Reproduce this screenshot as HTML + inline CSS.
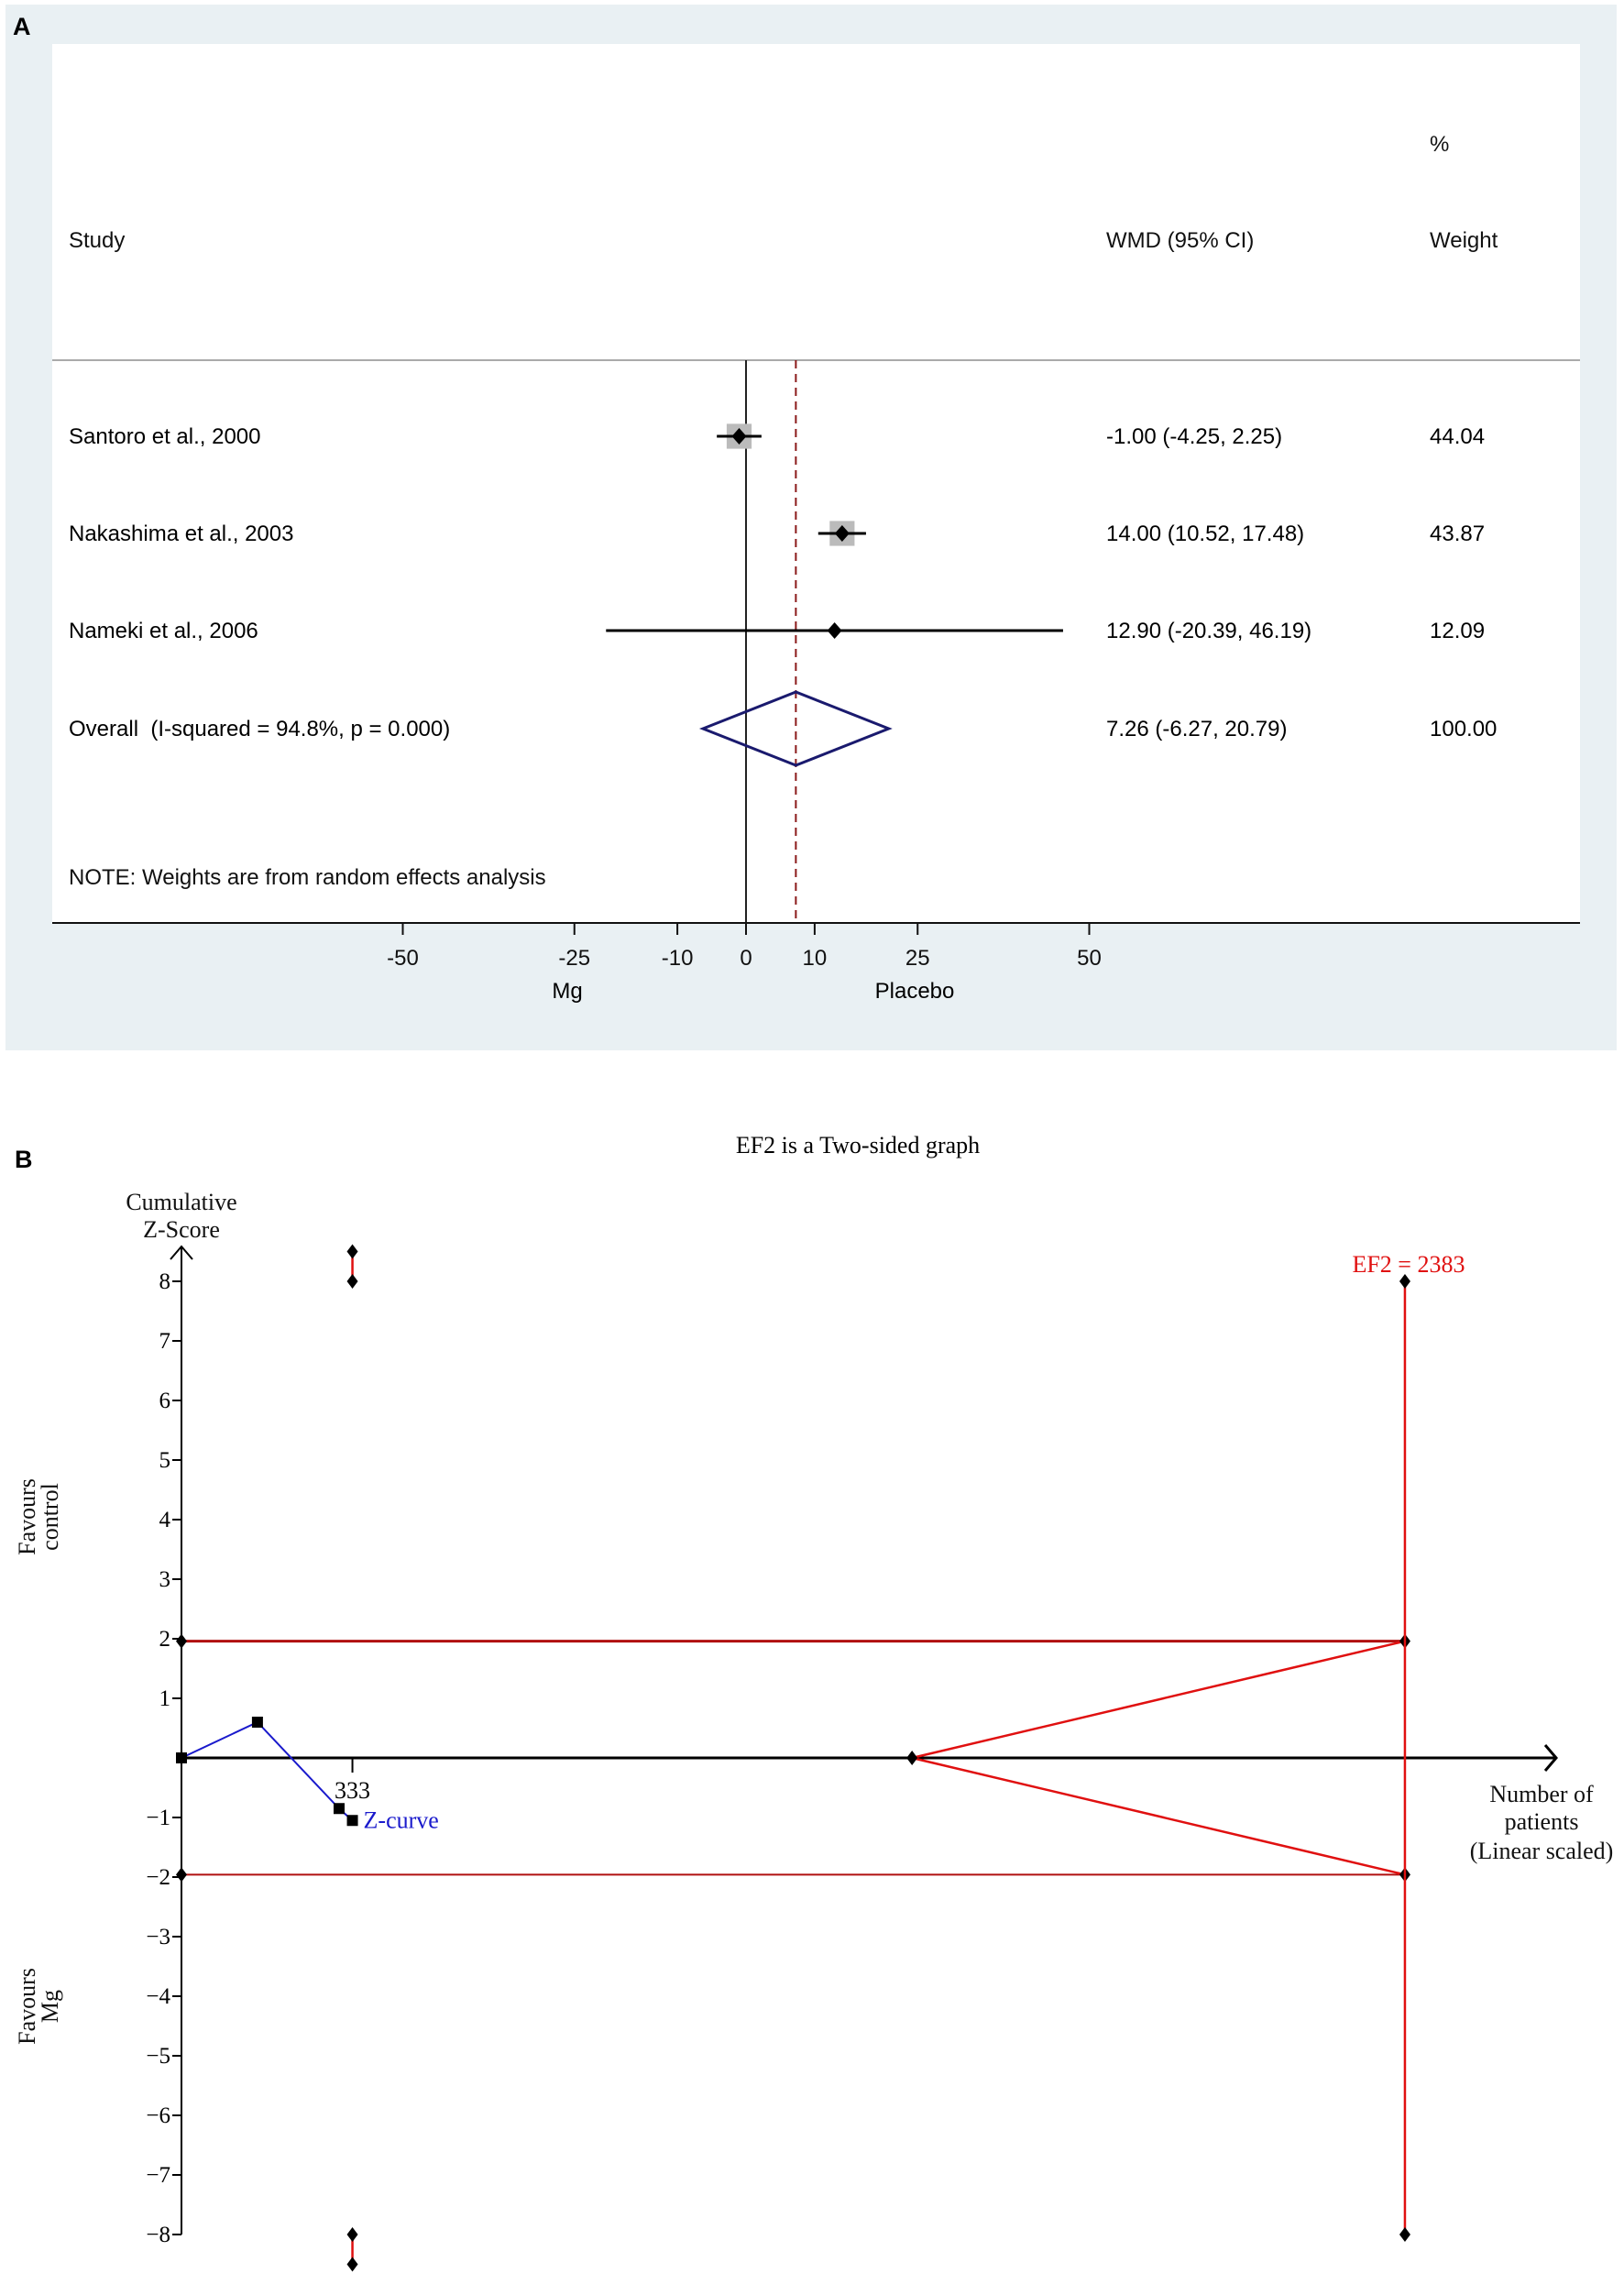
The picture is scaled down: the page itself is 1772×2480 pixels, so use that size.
<!DOCTYPE html>
<html><head><meta charset="utf-8"><style>
body{margin:0;background:#fff;}
svg{display:block;}
</style></head><body>
<svg id="fig" width="1772" height="2480" viewBox="0 0 1772 2480" xmlns="http://www.w3.org/2000/svg">
<rect x="0" y="0" width="1772" height="2480" fill="#fff"/>
<g id="panelA">
<rect x="6" y="5" width="1758" height="1141" fill="#e9f0f3"/>
<rect x="57" y="48" width="1667" height="959" fill="#fff"/>
<text x="14" y="38" font-family="Liberation Sans, sans-serif" font-weight="bold" font-size="27">A</text>
<line x1="57" y1="393" x2="1724" y2="393" stroke="#aaa" stroke-width="2"/>
<g font-family="Liberation Sans, sans-serif" font-size="24" fill="#111">
<text x="1560" y="165">%</text>
<text x="75" y="270">Study</text>
<text x="1207" y="270">WMD (95% CI)</text>
<text x="1560" y="270">Weight</text>
<text x="75" y="965">NOTE: Weights are from random effects analysis</text>
</g>
<g id="forestMarks"></g>
<line x1="57" y1="1007" x2="1724" y2="1007" stroke="#111" stroke-width="2"/>
<g id="forestTicks" font-family="Liberation Sans, sans-serif" font-size="24" fill="#111"></g>
<text x="619" y="1089" text-anchor="middle" font-family="Liberation Sans, sans-serif" font-size="24">Mg</text>
<text x="998" y="1089" text-anchor="middle" font-family="Liberation Sans, sans-serif" font-size="24">Placebo</text>
</g>
<g id="panelB">
<text x="16" y="1274" font-family="Liberation Sans, sans-serif" font-weight="bold" font-size="27">B</text>
<text x="936" y="1258" text-anchor="middle" font-family="Liberation Serif, serif" font-size="26">EF2 is a Two-sided graph</text>
<g font-family="Liberation Serif, serif" font-size="26" fill="#111">
<text x="198" y="1320" text-anchor="middle">Cumulative</text>
<text x="198" y="1350" text-anchor="middle">Z-Score</text>
<text transform="translate(38,1655) rotate(-90)" text-anchor="middle">Favours</text>
<text transform="translate(63,1655) rotate(-90)" text-anchor="middle">control</text>
<text transform="translate(38,2189) rotate(-90)" text-anchor="middle">Favours</text>
<text transform="translate(63,2189) rotate(-90)" text-anchor="middle">Mg</text>
<text x="1682" y="1966" text-anchor="middle">Number of</text>
<text x="1682" y="1996" text-anchor="middle">patients</text>
<text x="1682" y="2028" text-anchor="middle">(Linear scaled)</text>
</g>
<g id="tsa"></g>
</g>
</svg>
<script>
// ---- Panel A data ----
const studies = ["Santoro et al., 2000","Nakashima et al., 2003","Nameki et al., 2006"];
const est = [-1.00, 14.00, 12.90];
const lo = [-4.25, 10.52, -20.39];
const hi = [2.25, 17.48, 46.19];
const weights = [44.04, 43.87, 12.09];
const ciText = ["-1.00 (-4.25, 2.25)","14.00 (10.52, 17.48)","12.90 (-20.39, 46.19)"];
const overall = [7.26, -6.27, 20.79];
const overallLabel = "Overall  (I-squared = 94.8%, p = 0.000)";
const overallCi = "7.26 (-6.27, 20.79)";
const forestTicks = [-50,-25,-10,0,10,25,50];

// ---- Panel B data ----
const zN = [0, 148, 307, 333];
const zVal = [0, 0.6, -0.85, -1.05];
const zTicks = [-8,-7,-6,-5,-4,-3,-2,-1,1,2,3,4,5,6,7,8];
const conv = [1.96, -1.96];
const ef2 = 2383;
const ef2Start = 1423;
const mark333 = 333;

const NS = "http://www.w3.org/2000/svg";
function mk(tag, attrs, parent, txt){
  const e = document.createElementNS(NS, tag);
  for (const k in attrs) e.setAttribute(k, attrs[k]);
  if (txt !== undefined) e.textContent = txt;
  parent.appendChild(e); return e;
}
const ax = v => 814 + v * 7.49;
const rowY = [476, 582, 688];
const oY = 795;
const fm = document.getElementById('forestMarks');
const F = 'Liberation Sans, sans-serif';
const nl = mk('line',{x1:ax(0),y1:393,x2:ax(0),y2:1007,stroke:'#222','stroke-width':2},fm);


const dl = mk('line',{x1:ax(overall[0]),y1:393,x2:ax(overall[0]),y2:1007,stroke:'#8b1a1a','stroke-width':2,'stroke-dasharray':'9,6'},fm);


studies.forEach((s,i)=>{
  const y=rowY[i];
  const t=mk('text',{x:75,y:y+8,'font-family':F,'font-size':24},fm,s);
  
  
  const sz = Math.sqrt(weights[i])*4.1 * (weights[i]>20?1:0);
  if(sz>0){
    const b=mk('rect',{x:ax(est[i])-sz/2,y:y-sz/2,width:sz,height:sz,fill:'#bbb'},fm);
    
    
  }
  const l=mk('line',{x1:ax(lo[i]),y1:y,x2:ax(hi[i]),y2:y,stroke:'#000','stroke-width':3},fm);
  
  
  const x=ax(est[i]);
  const d=mk('path',{d:`M${x-8},${y}L${x},${y-9}L${x+8},${y}L${x},${y+9}Z`,fill:'#000'},fm);
  
  
  const c=mk('text',{x:1207,y:y+8,'font-family':F,'font-size':24},fm,ciText[i]);
  
  
  const w=mk('text',{x:1560,y:y+8,'font-family':F,'font-size':24},fm,weights[i].toFixed(2));
  
  
});
const ot=mk('text',{x:75,y:oY+8,'font-family':F,'font-size':24,style:'white-space:pre'},fm,overallLabel);


const od=mk('path',{d:`M${ax(overall[1])},${oY}L${ax(overall[0])},${oY-40}L${ax(overall[2])},${oY}L${ax(overall[0])},${oY+40}Z`,fill:'none',stroke:'#1a1a6e','stroke-width':3},fm);


const oc=mk('text',{x:1207,y:oY+8,'font-family':F,'font-size':24},fm,overallCi);


const ow=mk('text',{x:1560,y:oY+8,'font-family':F,'font-size':24},fm,'100.00');


const ft=document.getElementById('forestTicks');
forestTicks.forEach(v=>{
  const tl=mk('line',{x1:ax(v),y1:1007,x2:ax(v),y2:1020,stroke:'#111','stroke-width':2},ft);
  
  
  const tt=mk('text',{x:ax(v),y:1053,'text-anchor':'middle'},ft,String(v));
  
  
});

const bx = n => 198 + n * 0.5602;
const by = z => 1918 - z * 65.0;
const g = document.getElementById('tsa');
const S = 'Liberation Serif, serif';
function diam(x,y){
  const d=mk('path',{d:`M${x-6},${y}L${x},${y-8}L${x+6},${y}L${x},${y+8}Z`,fill:'#000'},g);
  
  
}
const ya=mk('path',{d:`M198,${by(-8)}L198,1360M186,1374L198,1360L210,1374`,fill:'none',stroke:'#000','stroke-width':2},g);


zTicks.forEach(v=>{
  const l=mk('line',{x1:188,y1:by(v),x2:198,y2:by(v),stroke:'#000','stroke-width':2},g);
  
  
  const t=mk('text',{x:186,y:by(v)+8,'text-anchor':'end','font-family':S,'font-size':25},g,(v<0?'\u2212':'')+Math.abs(v));
  
  
});
const xa=mk('path',{d:`M198,${by(0)}L1698,${by(0)}M1686,${by(0)-14}L1698,${by(0)}L1686,${by(0)+14}`,fill:'none',stroke:'#000','stroke-width':3},g);


const xt=mk('line',{x1:bx(mark333),y1:by(0),x2:bx(mark333),y2:by(0)+16,stroke:'#000','stroke-width':2},g);


const xtl=mk('text',{x:bx(mark333),y:by(0)+44,'text-anchor':'middle','font-family':S,'font-size':26},g,String(mark333));


conv.forEach(c=>{
  const l=mk('line',{x1:bx(0),y1:by(c),x2:bx(ef2),y2:by(c),stroke:'#b01010','stroke-width':c>0?3:2},g);
  
  
  diam(bx(0),by(c));
  const f=mk('line',{x1:bx(ef2Start),y1:by(0),x2:bx(ef2),y2:by(c),stroke:'#e01010','stroke-width':2.5},g);
  
  
  diam(bx(ef2),by(c));
});
diam(bx(ef2Start),by(0));
const ev=mk('line',{x1:bx(ef2),y1:by(8),x2:bx(ef2),y2:by(-8),stroke:'#e01010','stroke-width':2.5},g);


diam(bx(ef2),by(8)); diam(bx(ef2),by(-8));
const el=mk('text',{x:bx(ef2)+4,y:1388,'text-anchor':'middle','font-family':S,'font-size':26,fill:'#e01010'},g,'EF2 = '+ef2);


[[8,8.5],[-8,-8.5]].forEach(p=>{
  const l=mk('line',{x1:bx(mark333),y1:by(p[0]),x2:bx(mark333),y2:by(p[1]),stroke:'#e01010','stroke-width':2.5},g);
  
  
  diam(bx(mark333),by(p[0])); diam(bx(mark333),by(p[1]));
});
const zp=mk('polyline',{points:zN.map((n,i)=>bx(n)+','+by(zVal[i])).join(' '),fill:'none',stroke:'#1a1acc','stroke-width':2},g);


zN.forEach((n,i)=>{
  const r=mk('rect',{x:bx(n)-6,y:by(zVal[i])-6,width:12,height:12,fill:'#000'},g);
  
  
});
const zl=mk('text',{x:bx(zN[zN.length-1])+12,y:by(zVal[zVal.length-1])+8,'font-family':S,'font-size':26,fill:'#1a1acc'},g,'Z-curve');


</script>
</body></html>
